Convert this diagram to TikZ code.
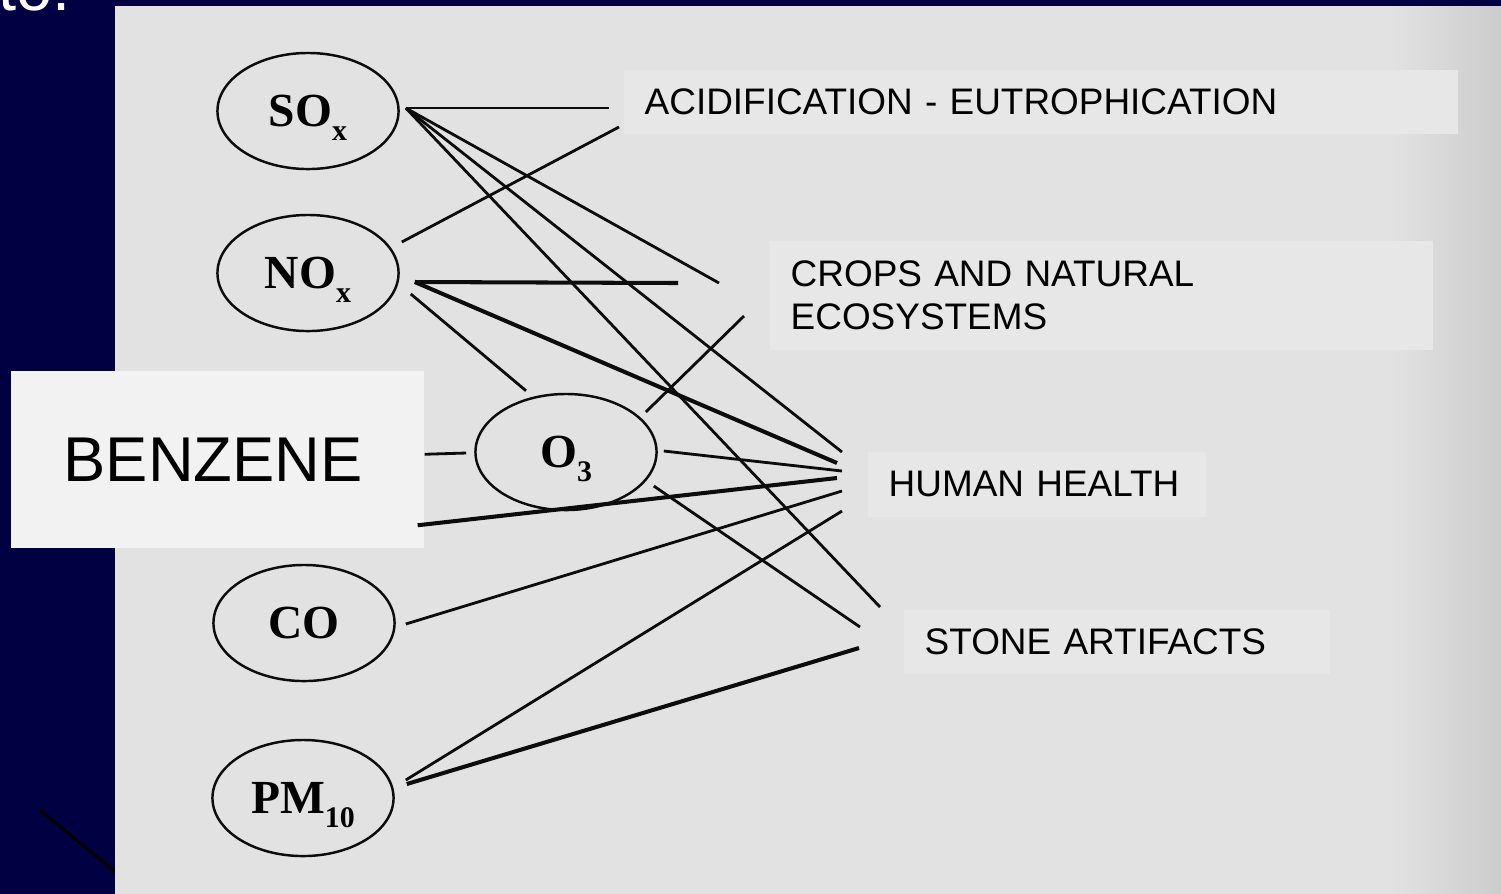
\documentclass[tikz,border=0pt]{standalone}
\usepackage{fontspec}
\setmainfont{Liberation Sans}
\newfontfamily\scanserif{Liberation Serif}
\usetikzlibrary{shapes.geometric}

\definecolor{slidebg}{RGB}{1,0,66}
\definecolor{paper}{RGB}{226,226,226}
\definecolor{paperedge}{RGB}{202,202,202}
\definecolor{boxgrey}{RGB}{231,231,231}
\definecolor{benzgrey}{RGB}{242,242,242}
\definecolor{ink}{RGB}{12,12,12}

\newcommand{\low}[1]{\raisebox{-4pt}[0pt][0pt]{\fontsize{8.5}{8.5}\selectfont #1}}

\begin{document}
\begin{tikzpicture}[x=0.01cm, y=-0.01cm,
    gas/.style={ellipse, draw=ink, line width=0.7pt, minimum width=1.81cm, minimum height=1.16cm, inner sep=0pt, font=\scanserif\bfseries\fontsize{13.5}{14}\selectfont},
    effect/.style={fill=boxgrey, anchor=north west, align=left, inner xsep=0.21cm, inner ysep=0pt, font=\fontsize{10.5}{12}\selectfont},
    link/.style={ink, line width=0.8pt},
    heavy/.style={ink, line width=1.15pt}]

\path[use as bounding box, clip] (0,0) rectangle (1501,893);
\fill[slidebg] (-10,-10) rectangle (1510,900);
\node[white, font=\fontsize{18.5}{20}\selectfont, anchor=base west, inner sep=0pt] (title) at (-2,10) {to.};
\draw[black, line width=0.85pt] (40,810) -- (130,884);

% scanned page
\fill[paper] (115,6) rectangle (1510,900);
\shade[left color=paper, right color=paperedge] (1390,6) rectangle (1510,900);

% pollutants
\node[gas] (sox) at (308,111) {SO\low{x}};
\node[gas] (nox) at (308,273) {NO\low{x}};
\node[gas] (othree) at (566,452) {O\low{3}};
\node[gas] (co) at (304,623) {CO};
\node[gas] (pm) at (303,798) {PM\low{10}};

% effects
\node[effect, text width=7.92cm, minimum height=0.64cm] (acid) at (623,69) {ACIDIFICATION - EUTROPHICATION};
\node[effect, text width=6.21cm, minimum height=1.09cm] (crops) at (769,240) {CROPS AND NATURAL\\ECOSYSTEMS};
\node[effect, text width=2.96cm, minimum height=0.65cm] (health) at (867,451) {HUMAN HEALTH};
\node[effect, text width=3.84cm, minimum height=0.64cm] (stone) at (903,609) {STONE ARTIFACTS};
\node[effect, fill=benzgrey, inner xsep=0.53cm, text width=3.07cm, minimum height=1.77cm, font=\fontsize{18}{20}\selectfont] (benz) at (10,370) {BENZENE};

% line ends
\coordinate (sox-o) at ([shift={(6,-3)}]sox.east);
\coordinate (nox-up) at ([shift={(2,-31)}]nox.east);
\coordinate (nox-o) at ([shift={(15,9)}]nox.east);
\coordinate (nox-low) at ([shift={(11,21)}]nox.east);
\coordinate (o3-top) at ([shift={(-40,-2)}]othree.north);
\coordinate (o3-ne) at ([shift={(-12,-40)}]othree.east);
\coordinate (o3-e) at ([shift={(6,-1)}]othree.east);
\coordinate (o3-se) at ([shift={(-4,34)}]othree.east);
\coordinate (o3-w) at ([shift={(-8,1)}]othree.west);
\coordinate (benz-e) at ([shift={(0,-5)}]benz.east);
\coordinate (benz-se) at ([shift={(-7,66)}]benz.east);
\coordinate (co-o) at ([shift={(10,1)}]co.east);
\coordinate (pm-o1) at ([shift={(11,-18)}]pm.east);
\coordinate (pm-o2) at ([shift={(12,-14)}]pm.east);

\coordinate (a1) at (609,108);
\coordinate (a2) at (619,127);
\coordinate (c1) at (719,283);
\coordinate (c2) at (678,283);
\coordinate (c3) at (744,316);
\coordinate (h1) at (842,452);
\coordinate (h2) at (837,463);
\coordinate (h3) at (842,471);
\coordinate (h4) at (837,478);
\coordinate (h5) at (842,491);
\coordinate (h6) at (842,511);
\coordinate (s1) at (880,607);
\coordinate (s2) at (860,627);
\coordinate (s3) at (859,648);

\foreach \t in {a1,c1,h1,s1} {
    \draw[link] (sox-o) -- (\t);
}
\draw[link] (nox-up) -- (a2);
\draw[heavy] (nox-o) -- (c2);
\draw[heavy] (nox-o) -- (h2);
\draw[link] (nox-low) -- (o3-top);

\draw[link] (o3-ne) -- (c3);
\draw[link] (o3-e) -- (h3);
\draw[link] (o3-se) -- (s2);
\draw[link] (benz-e) -- (o3-w);
\draw[heavy] (benz-se) -- (h4);

\draw[link] (co-o) -- (h5);
\draw[link] (pm-o1) -- (h6);
\draw[heavy] (pm-o2) -- (s3);

\end{tikzpicture}
\end{document}
